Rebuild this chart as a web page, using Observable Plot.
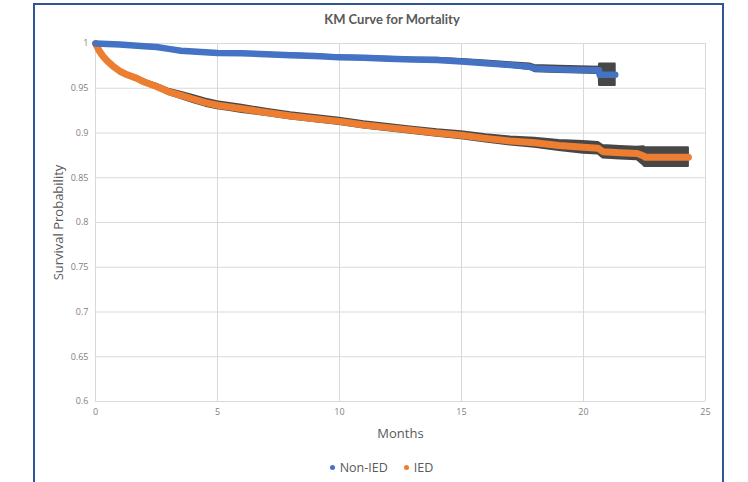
<!DOCTYPE html>
<html>
<head>
<meta charset="utf-8">
<script src="https://cdn.jsdelivr.net/npm/d3@7"></script>
<script src="https://cdn.jsdelivr.net/npm/@observablehq/plot@0.6"></script>
<style>
  html, body { margin: 0; padding: 0; background: #fff; }
  #wrap { position: relative; width: 748px; height: 482px; overflow: hidden; font-family: "Open Sans", Lato, sans-serif; }
  #frame { position: absolute; left: 33px; top: 3px; width: 691px; height: 520px; border: 2px solid #2F5597; box-sizing: border-box; }
  #title { position: absolute; top: 11px; left: 0; width: 784px; text-align: center; font-weight: bold; font-size: 13px; color: #595959; font-family: Lato, "Open Sans", sans-serif; }
  #legend { position: absolute; top: 459px; left: 0; width: 763px; text-align: center; font-size: 12.5px; color: #595959; }
  #legend span.dot { display: inline-block; width: 5px; height: 5px; border-radius: 50%; margin-right: 5px; vertical-align: middle; position: relative; top: -1px; }
  #legend span.item { margin: 0 8px; }
  #chart { position: absolute; left: 0; top: 0; }
</style>
</head>
<body>
<div id="wrap">
  <div id="frame"></div>
  <div id="chart"></div>
  <div id="title">KM Curve for Mortality</div>
  <div id="legend"></div>
</div>
<script>
// ---- Data ----
const seriesNames = ["Non-IED", "IED"];
const seriesColors = ["#4472C4", "#ED7D31"];

const monthsNonIED = [0, 1, 2, 2.5, 3, 3.5, 4, 5, 6, 7, 8, 9, 10, 11, 12, 13, 14, 15, 16, 17, 17.8, 18, 19, 20.64, 20.66, 21.3];
const survNonIED   = [1.000, 0.999, 0.997, 0.996, 0.994, 0.992, 0.991, 0.9895, 0.989, 0.988, 0.987, 0.986, 0.9845, 0.984, 0.983, 0.982, 0.9815, 0.980, 0.978, 0.976, 0.974, 0.972, 0.971, 0.970, 0.965, 0.965];
const ciNonIED     = [0, 0.001, 0.001, 0.001, 0.001, 0.001, 0.001, 0.001, 0.001, 0.001, 0.0015, 0.0015, 0.0015, 0.0015, 0.0015, 0.0015, 0.002, 0.002, 0.0025, 0.0025, 0.003, 0.0035, 0.0035, 0.0035, 0.012, 0.012];

const monthsIED = [0, 0.15, 0.3, 0.5, 0.75, 1.0, 1.3, 1.7, 2.0, 2.5, 3.0, 3.5, 4.0, 4.5, 5.0, 5.5, 6, 7, 8, 9, 10, 11, 12, 13, 14, 15, 16, 17, 18, 19, 20, 20.6, 20.8, 21.5, 22.2, 22.49, 22.51, 24.3];
const survIED   = [1.000, 0.992, 0.986, 0.980, 0.974, 0.969, 0.965, 0.961, 0.957, 0.952, 0.946, 0.942, 0.938, 0.934, 0.931, 0.929, 0.927, 0.923, 0.919, 0.916, 0.913, 0.909, 0.906, 0.903, 0.900, 0.8975, 0.894, 0.891, 0.889, 0.886, 0.884, 0.883, 0.879, 0.878, 0.877, 0.874, 0.873, 0.873];
const ciIED     = [0, 0, 0, 0.0005, 0.001, 0.001, 0.0015, 0.0015, 0.002, 0.0025, 0.003, 0.0035, 0.004, 0.004, 0.004, 0.004, 0.004, 0.0035, 0.0035, 0.0035, 0.0035, 0.0035, 0.0035, 0.0035, 0.0035, 0.004, 0.004, 0.0045, 0.005, 0.0055, 0.0065, 0.0065, 0.007, 0.007, 0.007, 0.0105, 0.0105, 0.0105];

const xTicks = [0, 5, 10, 15, 20, 25];
const yTicks = [0.6, 0.65, 0.7, 0.75, 0.8, 0.85, 0.9, 0.95, 1];

// ---- Build tables ----
function rows(months, surv, ci) {
  return months.map((m, i) => ({month: m, s: surv[i], lo: surv[i] - ci[i], hi: surv[i] + ci[i]}));
}
const nonIED = rows(monthsNonIED, survNonIED, ciNonIED);
const ied = rows(monthsIED, survIED, ciIED);

const band = "#474747";

const chart = Plot.plot({
  width: 748,
  height: 482,
  marginLeft: 95,
  marginRight: 43,
  marginTop: 43,
  marginBottom: 81,
  style: {fontFamily: "'Open Sans', Lato, sans-serif", fontSize: "9px", color: "#7f7f7f", background: "transparent"},
  x: {domain: [0, 25]},
  y: {domain: [0.6, 1]},
  marks: [
    Plot.gridX(xTicks.filter(d => d > 0), {stroke: "#d9d9d9", strokeOpacity: 1}),
    Plot.gridY(yTicks.filter(d => d > 0.6), {stroke: "#d9d9d9", strokeOpacity: 1}),
    Plot.ruleY([0.6], {stroke: "#d9d9d9"}),
    Plot.ruleX([0], {stroke: "#d9d9d9"}),
    Plot.axisX({ticks: xTicks, tickSize: 0, tickPadding: 7, label: null, tickFormat: d => String(d)}),
    Plot.axisY({ticks: yTicks, tickSize: 0, tickPadding: 7, label: null, tickFormat: d => String(+d.toFixed(2))}),
    Plot.text(["Months"], {x: 12.5, y: 0.6, dy: 32, fontSize: 13, fill: "#595959"}),
    Plot.text(["Survival Probability"], {x: 0, y: 0.8, dx: -37, rotate: -90, fontSize: 13, fill: "#595959"}),
    // confidence bands
    Plot.areaY(ied, {x: "month", y1: "lo", y2: "hi", fill: band, stroke: band, strokeWidth: 2}),
    Plot.areaY(nonIED, {x: "month", y1: "lo", y2: "hi", fill: band, stroke: band, strokeWidth: 2}),
    // survival curves
    Plot.line(ied, {x: "month", y: "s", stroke: seriesColors[1], strokeWidth: 7, strokeLinecap: "round", strokeLinejoin: "round"}),
    Plot.line(nonIED, {x: "month", y: "s", stroke: seriesColors[0], strokeWidth: 6.5, strokeLinecap: "round", strokeLinejoin: "round"})
  ]
});
document.getElementById("chart").appendChild(chart);

const legend = document.getElementById("legend");
seriesNames.forEach((name, i) => {
  const item = document.createElement("span");
  item.className = "item";
  item.innerHTML = `<span class="dot" style="background:${seriesColors[i]}"></span>${name}`;
  legend.appendChild(item);
});
</script>
</body>
</html>
